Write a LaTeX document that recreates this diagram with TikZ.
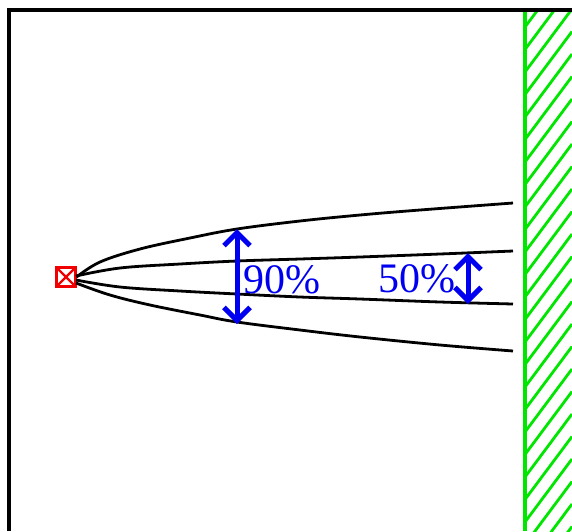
\documentclass[tikz,border=0pt]{standalone}
\usepackage{fontspec}
\setmainfont{Liberation Serif}
\usetikzlibrary{arrows.meta}
\definecolor{wallgreen}{RGB}{0,230,0}
\definecolor{sourcered}{RGB}{240,0,0}
\definecolor{markblue}{RGB}{0,0,240}

\begin{document}
\begin{tikzpicture}[
    x=1pt, y=-1pt,
    frame/.style={line width=3.2pt, black},
    beam/.style={line width=2.8pt, black},
    wall/.style={line width=3.2pt, wallgreen},
    hatch/.style={line width=2.8pt, wallgreen},
    source/.style={
        draw=sourcered,
        line width=2.2pt,
        minimum size=19pt,
        inner sep=0pt,
        path picture={
            \draw[sourcered, line width=2.2pt]
                (path picture bounding box.north west) -- (path picture bounding box.south east)
                (path picture bounding box.north east) -- (path picture bounding box.south west);
        }
    },
    span/.style={
        line width=5pt,
        markblue,
        {Straight Barb[length=13pt, width=26pt]}-{Straight Barb[length=13pt, width=26pt]}
    },
    percent/.style={
        markblue,
        font=\fontsize{42}{42}\selectfont,
        inner sep=0pt,
        anchor=base west
    }
]

\useasboundingbox (0,0) rectangle (572,531);

% Frame
\draw[frame] (9,531) -- (9,10) -- (572,10);

% Wall with hatching
\begin{scope}
    \clip (525,12) rectangle (572,531);
    \foreach \y in {-40.5,-18,...,620} {
        \draw[hatch] (525,\y) -- (572,\y-63);
    }
\end{scope}
\draw[wall] (525,11.5) -- (525,531);

% Source
\node[source] (src) at (66,277) {};

% Beam contours
\draw[beam] plot[smooth, tension=0.6] coordinates {
    (src.east) (100,262) (140,249) (190,238) (237,229) (300,221) (360,215) (420,210) (513,203)};
\draw[beam] plot[smooth, tension=0.6] coordinates {
    (76,276) (120,268) (180,264) (237,261) (300,259) (360,257) (440,254) (513,251)};
\draw[beam] plot[smooth, tension=0.6] coordinates {
    (76,280) (120,287) (180,291) (237,294) (300,297) (360,299) (440,302) (513,304)};
\draw[beam] plot[smooth, tension=0.6] coordinates {
    (76,283) (110,295) (150,305) (200,315) (237,322) (300,330) (360,337) (440,345) (513,351)};

% Spread markers
\coordinate (n90) at (237,229);
\coordinate (s90) at (237,324);
\coordinate (n50) at (468,253);
\coordinate (s50) at (468,304);
\draw[span] (n90) -- (s90);
\draw[span] (n50) -- (s50);

\node[percent] (lab90) at (243,293) {90\%};
\node[percent] (lab50) at (378,292) {50\%};

\end{tikzpicture}
\end{document}
